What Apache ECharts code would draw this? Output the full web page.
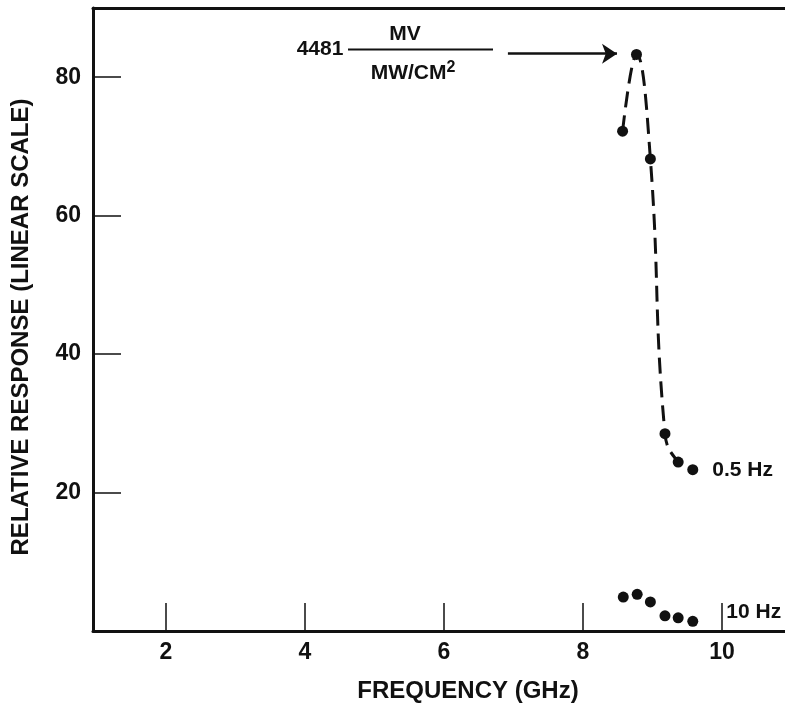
<!DOCTYPE html>
<html><head><meta charset="utf-8">
<script src="https://cdn.jsdelivr.net/npm/echarts@6/dist/echarts.min.js"></script>
<style>html,body{margin:0;padding:0;background:#fff}#c{width:785px;height:707px}</style>
</head><body><div id="c"></div>
<script>
var freq = [8.57, 8.77, 8.97, 9.18, 9.37, 9.58];
var resp05 = [72.2, 83.3, 68.2, 28.5, 24.4, 23.3];
var freq10 = [8.58, 8.78, 8.97, 9.18, 9.37, 9.58];
var resp10 = [4.9, 5.3, 4.2, 2.2, 1.9, 1.4];
var xTicks = [2, 4, 6, 8, 10];
var yTicks = [20, 40, 60, 80];
var peakArrow = [[6.92, 83.4], [8.49, 83.4]];

var FONT = '"Liberation Sans", Arial, sans-serif';
var INK = '#111';

function build(xs, ys, labelText, lab) {
  return xs.map(function (x, i) {
    var d = { value: [x, ys[i]] };
    if (i === xs.length - 1) {
      d.label = Object.assign({ show: true, formatter: labelText, position: 'right',
        color: INK, fontFamily: FONT, fontWeight: 'bold', fontSize: 21 }, lab);
    }
    return d;
  });
}

var chart = echarts.init(document.getElementById('c'));
chart.setOption({
  animation: false,
  backgroundColor: '#fff',
  grid: { left: 93, right: 0, top: 8, bottom: 76 },
  xAxis: [{
    type: 'value', min: 0.95, max: 10.907,
    axisLine: { show: true, onZero: false, lineStyle: { color: INK, width: 3 } },
    axisTick: { show: true, inside: true, length: 28, customValues: xTicks, lineStyle: { color: INK, width: 1.5 } },
    axisLabel: { customValues: xTicks, margin: 10, color: INK, fontFamily: FONT, fontWeight: 'bold', fontSize: 23 },
    splitLine: { show: false }
  }, {
    type: 'value', position: 'top', min: 0.95, max: 10.907,
    axisLine: { show: true, onZero: false, lineStyle: { color: INK, width: 3 } },
    axisTick: { show: false }, axisLabel: { show: false }, splitLine: { show: false }
  }],
  yAxis: {
    type: 'value', min: 0, max: 90,
    axisLine: { show: true, onZero: false, lineStyle: { color: INK, width: 3 } },
    axisTick: { show: true, inside: true, length: 28, customValues: yTicks, lineStyle: { color: INK, width: 1.5 } },
    axisLabel: { customValues: yTicks, margin: 12, color: INK, fontFamily: FONT, fontWeight: 'bold', fontSize: 23 },
    splitLine: { show: false }
  },
  series: [{
    name: '0.5 Hz', type: 'line', smooth: 0.45,
    data: build(freq, resp05, '0.5 Hz', { distance: 14 }),
    symbol: 'circle', symbolSize: 11,
    itemStyle: { color: INK, opacity: 1 },
    lineStyle: { color: INK, width: 3, type: [16, 8] },
    markLine: {
      silent: true, symbol: ['none', 'arrow'], symbolSize: 15,
      label: { show: false },
      itemStyle: { color: INK },
      lineStyle: { color: INK, width: 2.5, type: 'solid', opacity: 1 },
      data: [[{ coord: peakArrow[0] }, { coord: peakArrow[1] }]]
    }
  }, {
    name: '10 Hz', type: 'scatter',
    data: build(freq10, resp10, '10 Hz', { distance: 28, offset: [0, -9] }),
    symbol: 'circle', symbolSize: 11,
    itemStyle: { color: INK, opacity: 1 }
  }],
  graphic: [
    { type: 'text', x: 468, y: 691, style: { text: 'FREQUENCY (GHz)', fill: INK, font: 'bold 24px ' + FONT, textAlign: 'center', textVerticalAlign: 'middle' } },
    { type: 'text', x: 21, y: 327, rotation: Math.PI / 2, style: { text: 'RELATIVE RESPONSE (LINEAR SCALE)', fill: INK, font: 'bold 24px ' + FONT, textAlign: 'center', textVerticalAlign: 'middle' } },
    { type: 'text', x: 320, y: 49, style: { text: '4481', fill: INK, font: 'bold 21px ' + FONT, textAlign: 'center', textVerticalAlign: 'middle' } },
    { type: 'line', shape: { x1: 348, y1: 49.5, x2: 493, y2: 49.5 }, style: { stroke: INK, lineWidth: 2 } },
    { type: 'text', x: 405, y: 34, style: { text: 'MV', fill: INK, font: 'bold 21px ' + FONT, textAlign: 'center', textVerticalAlign: 'middle' } },
    { type: 'text', x: 413, y: 72, style: { text: '{a|MW/CM}{s|2}', fill: INK, textAlign: 'center', textVerticalAlign: 'middle',
        rich: { a: { font: 'bold 21px ' + FONT, fill: INK, verticalAlign: 'bottom' }, s: { font: 'bold 16px ' + FONT, fill: INK, verticalAlign: 'top', padding: [0, 0, 8, 0] } } } }
  ]
});
</script></body></html>
